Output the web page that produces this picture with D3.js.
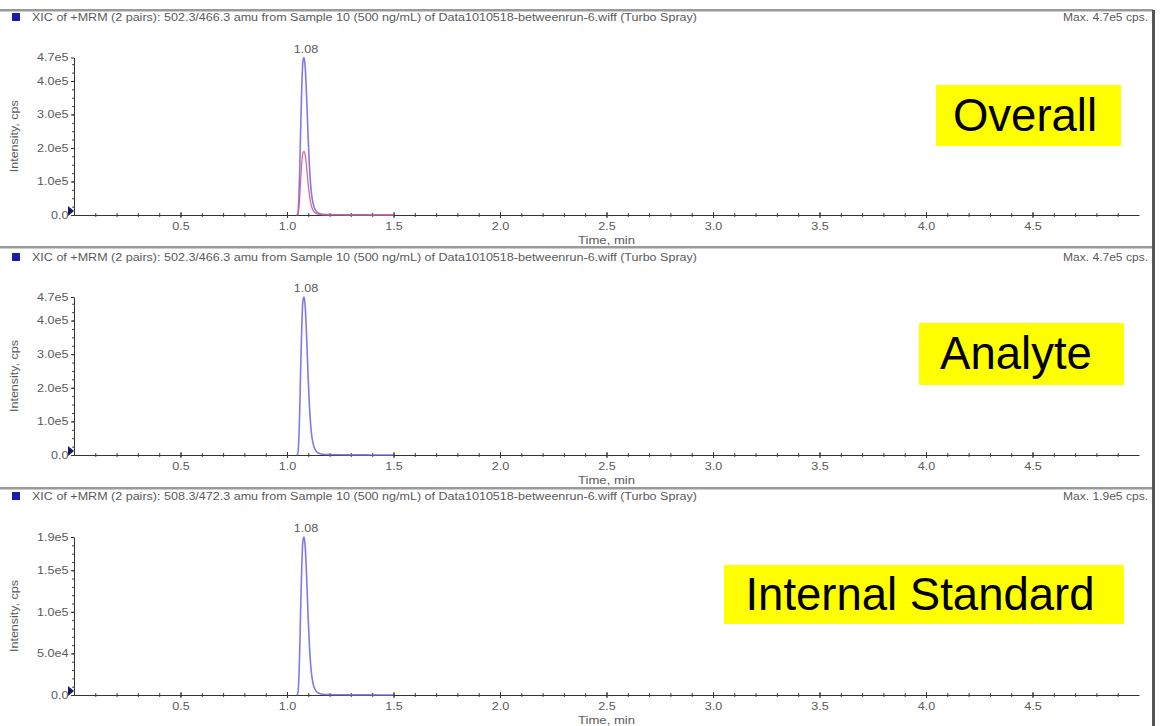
<!DOCTYPE html>
<html>
<head>
<meta charset="utf-8">
<script src="https://cdn.jsdelivr.net/npm/d3@7"></script>
<style>
  body { margin: 0; background: #fff; }
  svg { display: block; font-family: "Liberation Sans", Arial, sans-serif; }
</style>
</head>
<body>
<svg id="chart" width="1162" height="726"></svg>
<script>
// Retention time (min) of each acquired point
const times = [1.045, 1.050, 1.055, 1.060, 1.065, 1.070, 1.075, 1.080, 1.085, 1.090,
               1.095, 1.100, 1.105, 1.110, 1.115, 1.120, 1.125, 1.130, 1.135, 1.140,
               1.150, 1.160, 1.170, 1.180, 1.200, 1.250, 1.300, 1.350, 1.400, 1.450, 1.500];
// Analyte transition 502.3/466.3 (cps)
const analyte = [0, 2e3, 4.0e4, 1.40e5, 2.80e5, 3.95e5, 4.60e5, 4.70e5, 4.45e5, 3.85e5,
                 3.05e5, 2.20e5, 1.50e5, 9.8e4, 6.4e4, 4.2e4, 2.8e4, 1.9e4, 1.3e4, 9e3,
                 5e3, 3e3, 2e3, 1.5e3, 1e3, 600, 400, 300, 200, 200, 100];
// Internal standard transition 508.3/472.3 (cps)
const internalStd = [0, 1e3, 1.6e4, 5.7e4, 1.13e5, 1.60e5, 1.86e5, 1.90e5, 1.80e5, 1.56e5,
                     1.23e5, 8.9e4, 6.1e4, 4.0e4, 2.6e4, 1.7e4, 1.1e4, 7.5e3, 5.2e3, 3.6e3,
                     2e3, 1.2e3, 800, 600, 400, 250, 150, 100, 100, 80, 50];

const xTicks = [0.5, 1.0, 1.5, 2.0, 2.5, 3.0, 3.5, 4.0, 4.5];
const xTickLabels = ["0.5", "1.0", "1.5", "2.0", "2.5", "3.0", "3.5", "4.0", "4.5"];
const yTicksHigh = [0, 1e5, 2e5, 3e5, 4e5, 4.7e5];
const yTickLabelsHigh = ["0.0", "1.0e5", "2.0e5", "3.0e5", "4.0e5", "4.7e5"];
const yTicksLow = [0, 5e4, 1e5, 1.5e5, 1.9e5];
const yTickLabelsLow = ["0.0", "5.0e4", "1.0e5", "1.5e5", "1.9e5"];

const titles = [
  "XIC of +MRM (2 pairs): 502.3/466.3 amu from Sample 10 (500 ng/mL) of Data1010518-betweenrun-6.wiff (Turbo Spray)",
  "XIC of +MRM (2 pairs): 502.3/466.3 amu from Sample 10 (500 ng/mL) of Data1010518-betweenrun-6.wiff (Turbo Spray)",
  "XIC of +MRM (2 pairs): 508.3/472.3 amu from Sample 10 (500 ng/mL) of Data1010518-betweenrun-6.wiff (Turbo Spray)"
];
const maxLabels = ["Max. 4.7e5 cps.", "Max. 4.7e5 cps.", "Max. 1.9e5 cps."];
const tags = ["Overall", "Analyte", "Internal Standard"];

const BLUE = "#6c6cf2", RED = "#e0587a", INK = "#5a5a5a";
const svg = d3.select("#chart");

const x = d3.scaleLinear().domain([0, 5.0]).range([74, 1139]);

// Panel layout: separator, title baseline, axis top / zero, label box
const panels = [
  { sep: 10,  title: 21,  top: 57.5, zero: 215, yMax: 4.7e5, ticks: yTicksHigh, labels: yTickLabelsHigh, minor: 2.5e4,
    series: [{ v: analyte, c: BLUE, w: 1.6 }, { v: internalStd, c: RED, w: 1.3 }], apex: analyte,
    box: { x: 936, y: 85, w: 185, h: 61, base: 131, cx: 1025 } },
  { sep: 247, title: 261, top: 297, zero: 455, yMax: 4.7e5, ticks: yTicksHigh, labels: yTickLabelsHigh, minor: 2.5e4,
    series: [{ v: analyte, c: BLUE, w: 1.6 }], apex: analyte,
    box: { x: 919, y: 323, w: 205, h: 62, base: 369, cx: 1016 } },
  { sep: 488, title: 500, top: 537, zero: 695, yMax: 1.9e5, ticks: yTicksLow, labels: yTickLabelsLow, minor: 1e4,
    series: [{ v: internalStd, c: BLUE, w: 1.6 }], apex: internalStd,
    box: { x: 724, y: 565, w: 400, h: 59, base: 610, cx: 920 } }
];

// Small instrument text is slightly wide; draw with a horizontal stretch
function stretchedText(g, px, py, str, anchor, size, len) {
  const t = g.append("text")
    .attr("transform", `translate(${px},${py}) scale(1.2,1)`)
    .attr("text-anchor", anchor)
    .attr("font-size", size)
    .attr("fill", INK)
    .text(str);
  if (len) t.attr("textLength", len / 1.2).attr("lengthAdjust", "spacingAndGlyphs");
  return t;
}

panels.forEach((p, i) => {
  const g = svg.append("g");
  const y = d3.scaleLinear().domain([0, p.yMax]).range([p.zero, p.top]);

  // separator bar above each panel
  g.append("rect").attr("x", 0).attr("y", p.sep - 1).attr("width", 1153).attr("height", 2.5).attr("fill", "#9a9a9a");

  // header: trace marker, title, max intensity
  g.append("rect").attr("x", 12).attr("y", p.title - 8).attr("width", 8).attr("height", 8).attr("fill", "#1c1ca8");
  g.append("text").attr("x", 32).attr("y", p.title).attr("font-size", 10).attr("fill", INK)
    .attr("textLength", 665).attr("lengthAdjust", "spacingAndGlyphs").text(titles[i]);
  g.append("text").attr("x", 1063).attr("y", p.title).attr("font-size", 10).attr("fill", INK)
    .attr("textLength", 85).attr("lengthAdjust", "spacingAndGlyphs").text(maxLabels[i]);

  // x axis: minor every 0.1 min, labelled every 0.5 min
  const xMinor = g.append("g").attr("transform", `translate(0,${p.zero})`)
    .call(d3.axisBottom(x).tickValues(d3.range(1, 50).map(k => k / 10)).tickSize(2).tickFormat(""));
  xMinor.select(".domain").remove();
  xMinor.selectAll("line").attr("y1", -2).attr("stroke", "#444");

  const xAxis = g.append("g").attr("transform", `translate(0,${p.zero})`)
    .call(d3.axisBottom(x).tickValues(xTicks).tickSizeInner(3).tickSizeOuter(0).tickPadding(5)
      .tickFormat((d, k) => xTickLabels[k]));
  xAxis.select(".domain").attr("stroke", "#333");
  xAxis.selectAll("line").attr("y1", -3).attr("stroke", "#333");
  xAxis.selectAll("text").attr("font-size", 10.5).attr("fill", INK).attr("font-family", "Liberation Sans, Arial, sans-serif")
    .attr("transform", "scale(1.2,1)");

  stretchedText(g, (x.range()[0] + x.range()[1]) / 2, p.zero + 29, "Time, min", "middle", 10.5, 57);

  // y axis
  const yMinor = g.append("g").attr("transform", "translate(74,0)")
    .call(d3.axisLeft(y).tickValues(d3.range(0, p.yMax, p.minor)).tickSize(2).tickFormat(""));
  yMinor.select(".domain").remove();
  yMinor.selectAll("line").attr("x1", 1).attr("stroke", "#444");

  const yAxis = g.append("g").attr("transform", "translate(74,0)")
    .call(d3.axisLeft(y).tickValues(p.ticks).tickSizeInner(3).tickSizeOuter(0).tickPadding(1.6)
      .tickFormat((d, k) => p.labels[k]));
  yAxis.select(".domain").attr("stroke", "#333");
  yAxis.selectAll("line").attr("stroke", "#333");
  yAxis.selectAll("text").attr("font-size", 10.5).attr("fill", INK).attr("font-family", "Liberation Sans, Arial, sans-serif")
    .attr("transform", "scale(1.2,1)");

  g.append("text")
    .attr("transform", `translate(18,${(p.top + p.zero) / 2}) rotate(-90)`)
    .attr("text-anchor", "middle").attr("font-size", 10).attr("fill", INK)
    .attr("textLength", 72).attr("lengthAdjust", "spacingAndGlyphs")
    .text("Intensity, cps");

  // origin marker
  g.append("path")
    .attr("d", `M68,${p.zero - 9} L74,${p.zero - 4} L68,${p.zero + 1} Z`)
    .attr("fill", "#15156e");

  // traces
  const line = d3.line().x((d, k) => x(times[k])).y(d => y(d)).curve(d3.curveMonotoneX);
  p.series.forEach(s => {
    g.append("path").datum(s.v).attr("d", line)
      .attr("fill", "none").attr("stroke", s.c).attr("stroke-width", s.w)
      .attr("stroke-linejoin", "round").attr("opacity", 0.9);
  });

  // apex retention-time label
  const k = d3.maxIndex(p.apex);
  stretchedText(g, x(times[k]) + 2, y(p.apex[k]) - 5, d3.format(".2f")(times[k]), "middle", 10.5);

  // highlighted trace name
  g.append("rect").attr("x", p.box.x).attr("y", p.box.y).attr("width", p.box.w).attr("height", p.box.h).attr("fill", "#ffff00");
  g.append("text").attr("x", p.box.cx).attr("y", p.box.base)
    .attr("text-anchor", "middle").attr("font-size", 45.5).attr("fill", "#000").text(tags[i]);
});

// right frame edge
svg.append("rect").attr("x", 1152).attr("y", 10).attr("width", 3).attr("height", 716).attr("fill", "#555");
</script>
</body>
</html>
